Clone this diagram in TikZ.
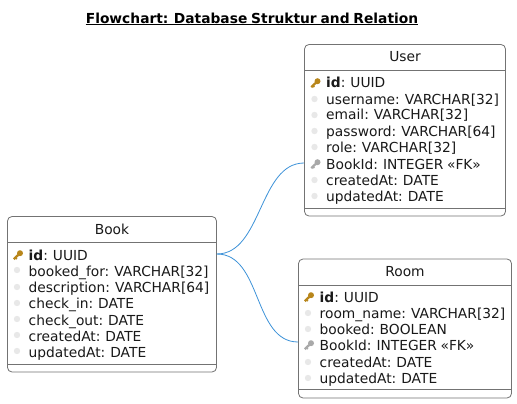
\documentclass[tikz,border=0pt]{standalone}
\usepackage{fontspec}
\setmainfont[WordSpace=0.8]{DejaVu Sans}
\usepackage{tikz}
\definecolor{keygold}{HTML}{B8861B}
\definecolor{keygrey}{HTML}{A9A9A9}
\definecolor{relblue}{HTML}{3D92D8}
\tikzset{
entity/.style={draw=black!55,line width=0.8pt,rounded corners=4.5pt,fill=white,inner sep=0pt},
sep/.style={draw=black!55,line width=0.8pt},
head/.style={inner sep=0pt,font=\fontsize{13.8}{15}\selectfont,text=black!90},
row/.style={inner sep=0pt,anchor=base west,font=\fontsize{13.8}{15}\selectfont,text=black!90},
dot/.style={fill=black!9,draw=none},
relation/.style={draw=relblue,line width=0.8pt}
}
\newcommand{\keyicon}[2]{
\begin{scope}[shift={(#1)}]
\fill [#2] (2,-1.8) circle (3);
\draw [#2,line width=2.3pt] (2,-1.8) -- (-4.2,4.2);
\draw [#2,line width=1.6pt] (-2.6,2.6) -- (-1.2,4);
\end{scope}
}
\begin{document}
\begin{tikzpicture}[x=1pt,y=-1pt]
\useasboundingbox (0,0) rectangle (517,404);
\node [inner sep=0pt,font=\bfseries\fontsize{13.8}{15}\selectfont,text=black] (title) at (252,18) {Flowchart: Database Struktur and Relation};
\draw [line width=1pt] (title.west |- 0,24.5) -- (title.east |- 0,24.5);
% User
\node [entity,minimum width=201pt,minimum height=171.5pt] (user) at (405,130.25) {};
\node [head] (usertitle) at (405,57) {User};
\draw [sep] (user.west |- 0,70) -- (user.east |- 0,70);
\draw [sep] (user.west |- 0,208) -- (user.east |- 0,208);
\node [row] (userid) at (326,87.5) {\textbf{id}: UUID};
\node [row] (username) at (326,104) {username: VARCHAR[32]};
\node [row] (useremail) at (326,120) {email: VARCHAR[32]};
\node [row] (userpass) at (326,136) {password: VARCHAR[64]};
\node [row] (userrole) at (326,152.5) {role: VARCHAR[32]};
\node [row] (userfk) at (326,169) {BookId: INTEGER «FK»};
\node [row] (usercreated) at (326,185) {createdAt: DATE};
\node [row] (userupdated) at (326,201.5) {updatedAt: DATE};
\keyicon{315.5,83}{keygold}
\keyicon{315.5,164}{keygrey}
\foreach \y in {99,115,131,147,180,196} \fill [dot] (314.5,\y) circle (3.2);
% Book
\node [entity,minimum width=209pt,minimum height=155.5pt] (book) at (112,294.25) {};
\node [head] (booktitle) at (112,229.5) {Book};
\draw [sep] (book.west |- 0,242.5) -- (book.east |- 0,242.5);
\draw [sep] (book.west |- 0,364) -- (book.east |- 0,364);
\node [row] (bookid) at (28.5,260) {\textbf{id}: UUID};
\node [row] (bookfor) at (28.5,276) {booked\_for: VARCHAR[32]};
\node [row] (bookdesc) at (28.5,292) {description: VARCHAR[64]};
\node [row] (bookin) at (28.5,308.5) {check\_in: DATE};
\node [row] (bookout) at (28.5,325) {check\_out: DATE};
\node [row] (bookcreated) at (28.5,341) {createdAt: DATE};
\node [row] (bookupdated) at (28.5,357.5) {updatedAt: DATE};
\keyicon{18,255}{keygold}
\foreach \y in {270,287,303,319,335,351} \fill [dot] (17,\y) circle (3.2);
% Room
\node [entity,minimum width=213pt,minimum height=139pt] (room) at (405,328.5) {};
\node [head] (roomtitle) at (405,271.5) {Room};
\draw [sep] (room.west |- 0,285) -- (room.east |- 0,285);
\draw [sep] (room.west |- 0,389) -- (room.east |- 0,389);
\node [row] (roomid) at (319.5,302) {\textbf{id}: UUID};
\node [row] (roomname) at (319.5,318) {room\_name: VARCHAR[32]};
\node [row] (roombooked) at (319.5,334) {booked: BOOLEAN};
\node [row] (roomfk) at (319.5,350) {BookId: INTEGER «FK»};
\node [row] (roomcreated) at (319.5,367) {createdAt: DATE};
\node [row] (roomupdated) at (319.5,383) {updatedAt: DATE};
\keyicon{309,297}{keygold}
\keyicon{309,345}{keygrey}
\foreach \y in {313,329,362,378} \fill [dot] (308,\y) circle (3.2);
% relations
\coordinate (bookport) at (book.east |- 0,254);
\coordinate (userport) at (user.west |- 0,163);
\coordinate (roomport) at (room.west |- 0,342);
\draw [relation] (bookport) .. controls (262,254) and (259,163) .. (userport);
\draw [relation] (bookport) .. controls (262,254) and (253,342) .. (roomport);
\end{tikzpicture}
\end{document}
